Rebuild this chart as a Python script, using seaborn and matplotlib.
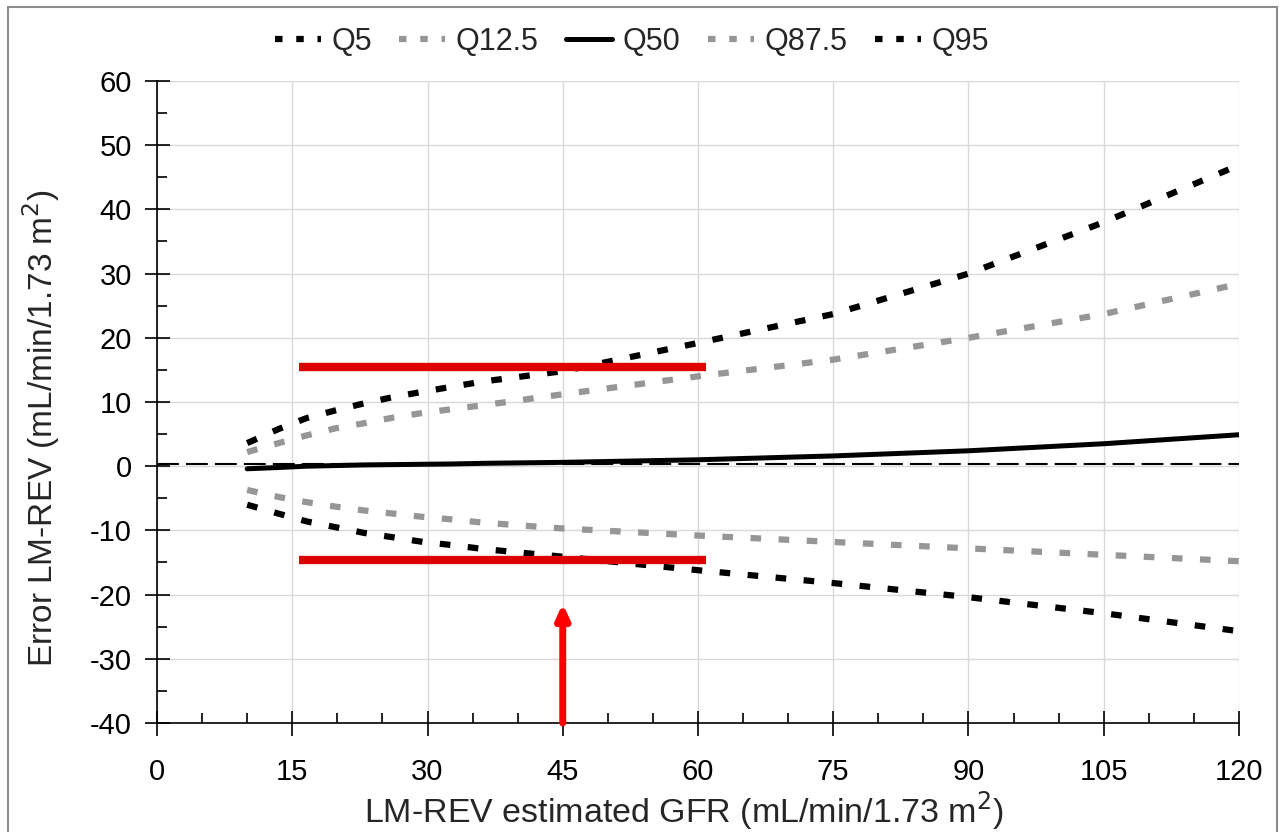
import numpy as np
import pandas as pd
import matplotlib.pyplot as plt
import seaborn as sns
from matplotlib.ticker import MultipleLocator

sns.set_theme(style = 'white')
plt.rcParams['font.family'] = ['Liberation Sans', 'DejaVu Sans']

gfr = [10, 13.5, 16.6, 19.8, 23, 26.3, 29.5, 32.8, 36.2, 45, 60, 75, 90, 105, 120]
q95 = [3.6, 5.8, 7.5, 8.7, 9.8, 10.8, 11.6, 12.4, 13.2, 14.8, 19.2, 23.7, 30.0, 38.0, 46.9]
q875 = [2.2, 3.6, 4.8, 5.9, 6.7, 7.6, 8.3, 8.9, 9.5, 11.2, 14.0, 16.6, 20.0, 23.7, 28.4]
q50 = [-0.4, -0.2, 0.0, 0.1, 0.2, 0.25, 0.3, 0.35, 0.45, 0.6, 1.0, 1.6, 2.4, 3.5, 4.9]
q125 = [-3.7, -4.8, -5.6, -6.3, -6.9, -7.4, -7.9, -8.3, -8.8, -9.7, -10.8, -11.8, -12.8, -13.8, -14.8]
q5 = [-6.0, -7.4, -8.6, -9.5, -10.4, -11.1, -11.8, -12.3, -12.9, -14.1, -16.2, -18.2, -20.4, -22.9, -25.7]

ref_level = 0.4
band_x = [15.7, 60.9]
band_upper = 15.5
band_lower = -14.6
arrow_x = 45
arrow_from, arrow_to = -40, -21.4

df = pd.DataFrame({'gfr': gfr, 'Q5': q5, 'Q12.5': q125, 'Q50': q50, 'Q87.5': q875, 'Q95': q95})

fig = plt.figure(figsize = (12.79, 8.32), dpi = 100)
ax = fig.add_axes([157 / 1279, 1 - 723 / 832, (1239 - 157) / 1279, (723 - 81) / 832])

dots = (0, (1.7, 2.8))
styles = {
    'Q5': dict(color = 'black', ls = dots, lw = 4.5),
    'Q12.5': dict(color = '#969696', ls = dots, lw = 4.5),
    'Q50': dict(color = 'black', ls = '-', lw = 3.6),
    'Q87.5': dict(color = '#969696', ls = dots, lw = 4.5),
    'Q95': dict(color = 'black', ls = dots, lw = 4.5),
}
for name, st in styles.items():
    sns.lineplot(data = df, x = 'gfr', y = name, ax = ax, color = st['color'],
                 linestyle = st['ls'], linewidth = st['lw'], label = name)

ax.axhline(ref_level, color = 'black', lw = 1.5, ls = (0, (10.5, 3.4)), zorder = 1)
ax.hlines([band_upper, band_lower], band_x[0], band_x[1], color = '#dd0000', lw = 6, zorder = 3)
ax.annotate('', xy = (arrow_x, arrow_to), xytext = (arrow_x, arrow_from),
            arrowprops = dict(arrowstyle = '-|>,head_width=0.32,head_length=0.7', color = 'red', lw = 5,
                              shrinkA = 0, shrinkB = 0), zorder = 4)

ax.set_xlim(0, 120)
ax.set_ylim(-40, 60)
ax.xaxis.set_major_locator(MultipleLocator(15))
ax.xaxis.set_minor_locator(MultipleLocator(5))
ax.yaxis.set_major_locator(MultipleLocator(10))
ax.yaxis.set_minor_locator(MultipleLocator(5))
ax.grid(True, which = 'major', color = '#d9d9d9', lw = 1)
ax.set_axisbelow(True)
for s in ['top', 'right']:
    ax.spines[s].set_visible(False)
for s in ['left', 'bottom']:
    ax.spines[s].set_color('black')
    ax.spines[s].set_linewidth(1.2)
ax.tick_params(which = 'major', direction = 'inout', length = 18, width = 1.2, labelsize = 21, colors = 'black')
ax.tick_params(which = 'minor', direction = 'in', length = 7, width = 1.2, colors = 'black')
ax.tick_params(axis = 'x', which = 'both', bottom = True, pad = 16)
ax.tick_params(axis = 'y', which = 'both', left = True, pad = 9)
ax.set_yticklabels([str(int(v)) for v in ax.get_yticks()])

ax.set_xlabel('LM-REV estimated GFR (mL/min/1.73 m$^2$)', fontsize = 24.5, va = 'baseline')
ax.set_ylabel('Error LM-REV (mL/min/1.73 m$^2$)', fontsize = 24, va = 'center')
ax.xaxis.set_label_coords(0.487, -0.155)
ax.yaxis.set_label_coords(-0.107, 0.46)

leg = ax.legend(loc = 'center', bbox_to_anchor = (0.439, 1.061), ncol = 5, frameon = False,
                fontsize = 22, handlelength = 1.5, columnspacing = 0.9, handletextpad = 0.35)
for h in leg.get_lines():
    if h.get_linestyle() != '-':
        h.set_dashes((1.2, 2.2))

# chart frame: left, top and right edges only (bottom is cut off in the reference)
fig.patches.append(plt.Rectangle((8 / 1279, -0.05), 1269 / 1279, 1.05 - 7 / 832, transform = fig.transFigure,
                                 fill = False, edgecolor = '#8c8c8c', lw = 1.5))
fig.savefig('out.png', dpi = 100)
